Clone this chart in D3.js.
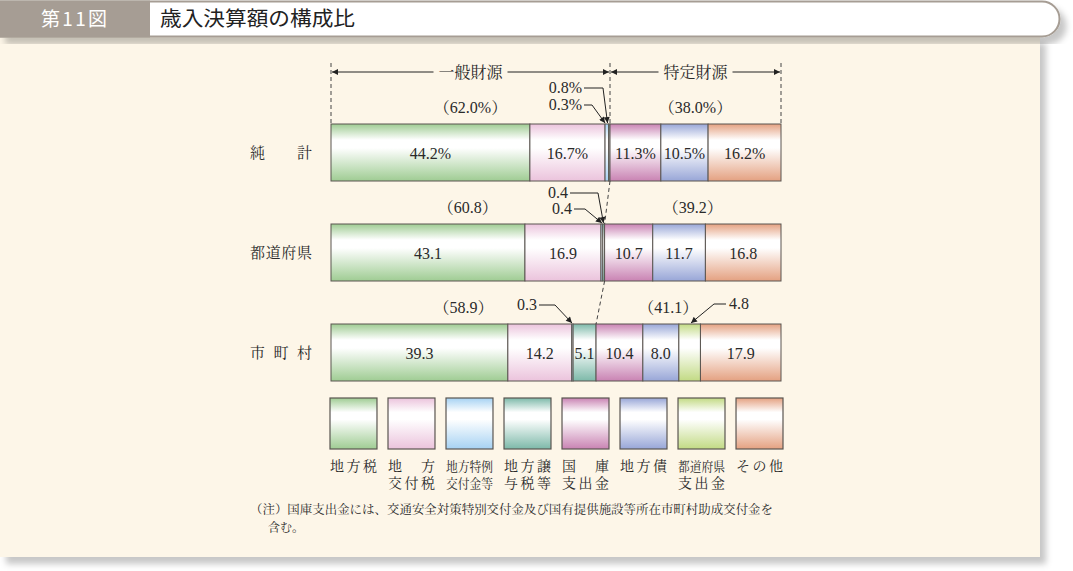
<!DOCTYPE html>
<html>

<head>
	<meta charset="utf-8">
	<title>歳入決算額の構成比</title>
	<style type="text/css">
		body {
			margin: 0;
			background: #ffffff;
		}

		svg {
			display: block;
		}

		.mincho {
			font-family: 'Liberation Serif', 'Noto Serif CJK JP', 'Noto Sans CJK JP', serif;
			fill: #2a2a2a;
		}
	</style>
</head>

<body>
	<script src="https://cdn.jsdelivr.net/npm/d3@7"></script>

	<script>

		// data
		var rows = ["純計", "都道府県", "市町村"];
		var categories = ["地方税", "地方交付税", "地方特例交付金等", "地方譲与税等", "国庫支出金", "地方債", "都道府県支出金", "その他"];
		var netValues = [44.2, 16.7, 0.8, 0.3, 11.3, 10.5, 0, 16.2];
		var prefValues = [43.1, 16.9, 0.4, 0.4, 10.7, 11.7, 0, 16.8];
		var munValues = [39.3, 14.2, 0.3, 5.1, 10.4, 8.0, 4.8, 17.9];
		var generalShare = [62.0, 60.8, 58.9];
		var generalLabels = ["（62.0%）", "（60.8）", "（58.9）"];
		var specificLabels = ["（38.0%）", "（39.2）", "（41.1）"];
		var legendLines = [["地方税"], ["地方", "交付税"], ["地方特例", "交付金等"], ["地方譲", "与税等"],
			["国庫", "支出金"], ["地方債"], ["都道府県", "支出金"], ["その他"]];
		var colors = ["#9fcc93", "#ebc3dc", "#a6d2f3", "#7db9a9", "#c983b3", "#98a6d7", "#c2da84", "#e4a181"];

		var values = [netValues, prefValues, munValues];

		var W = 1073, H = 571;
		var barH = 57;

		var x = d3.scaleLinear().domain([0, 100]).range([331, 781]);
		var y = d3.scalePoint().domain(rows).range([124, 324]);
		var lx = d3.scaleBand().domain(categories).range([330, 783]).paddingInner(0.19).paddingOuter(0);

		var svg = d3.select("body").append("svg")
			.attr("width", W)
			.attr("height", H);

		var defs = svg.append("defs");

		var shadow = defs.append("filter").attr("id", "shadow")
			.attr("x", "-5%").attr("y", "-5%").attr("width", "115%").attr("height", "125%");
		shadow.append("feDropShadow")
			.attr("dx", 6).attr("dy", 7).attr("stdDeviation", 3)
			.attr("flood-color", "#000").attr("flood-opacity", 0.22);

		// vertical gradient per category: colour - white - colour
		categories.forEach(function (c, i) {
			var g = defs.append("linearGradient").attr("id", "grad" + i)
				.attr("x1", 0).attr("y1", 0).attr("x2", 0).attr("y2", 1);
			g.append("stop").attr("offset", "0%").attr("stop-color", colors[i]);
			g.append("stop").attr("offset", "28%").attr("stop-color", "#ffffff");
			g.append("stop").attr("offset", "42%").attr("stop-color", "#ffffff");
			g.append("stop").attr("offset", "100%").attr("stop-color", colors[i]);
		});

		function arrowMarker(id, orient) {
			defs.append("marker").attr("id", id)
				.attr("viewBox", "0 0 10 10")
				.attr("refX", 10).attr("refY", 5)
				.attr("markerWidth", 8).attr("markerHeight", 6)
				.attr("markerUnits", "userSpaceOnUse")
				.attr("orient", orient)
				.append("path").attr("d", "M0,0 L10,5 L0,10 Z").attr("fill", "#222");
		}
		arrowMarker("arrow", "auto");
		arrowMarker("arrowStart", "auto-start-reverse");

		// panel and header
		svg.append("rect")
			.attr("x", 0).attr("y", 36).attr("width", 1040).attr("height", 521)
			.attr("fill", "#fdf6e8")
			.attr("filter", "url(#shadow)");

		svg.append("path")
			.attr("d", "M0,1.5 H1042 A17.5,17.5 0 0 1 1042,36.5 H0 Z")
			.attr("fill", "#ffffff")
			.attr("stroke", "#a69d94")
			.attr("stroke-width", 2)
			.attr("filter", "url(#shadow)");

		svg.append("rect")
			.attr("x", 0).attr("y", 0.5).attr("width", 150).attr("height", 37)
			.attr("fill", "#a69d94");

		svg.append("text")
			.attr("x", 41).attr("y", 26)
			.attr("font-family", "'Noto Sans CJK JP', sans-serif")
			.attr("font-size", 19)
			.attr("fill", "#ffffff")
			.attr("textLength", 66)
			.attr("lengthAdjust", "spacing")
			.text("第11図");

		svg.append("text")
			.attr("x", 160).attr("y", 26)
			.attr("font-family", "'Noto Sans CJK JP', sans-serif")
			.attr("font-size", 20)
			.attr("fill", "#222")
			.attr("textLength", 195)
			.attr("lengthAdjust", "spacingAndGlyphs")
			.text("歳入決算額の構成比");

		// row labels
		svg.selectAll("text.row")
			.data(rows)
			.enter().append("text")
			.attr("class", "row mincho")
			.attr("x", 250)
			.attr("y", function (d) { return y(d) + barH / 2 + 5; })
			.attr("font-size", 15)
			.attr("textLength", 62)
			.attr("lengthAdjust", "spacing")
			.text(function (d) { return d; });

		// bar segments
		var segData = [];
		values.forEach(function (vals, r) {
			var cum = 0;
			vals.forEach(function (v, i) {
				if (v > 0) segData.push({ row: rows[r], r: r, cat: i, v: v, x0: cum, x1: cum + v });
				cum += v;
			});
		});

		svg.selectAll("rect.seg")
			.data(segData)
			.enter().append("rect")
			.attr("class", "seg")
			.attr("x", function (d) { return x(d.x0); })
			.attr("y", function (d) { return y(d.row); })
			.attr("width", function (d) { return x(d.x1) - x(d.x0); })
			.attr("height", barH)
			.attr("fill", function (d) { return "url(#grad" + d.cat + ")"; })
			.attr("stroke", "#5a5550")
			.attr("stroke-width", 1);

		svg.selectAll("text.seg")
			.data(segData.filter(function (d) { return d.v >= 5; }))
			.enter().append("text")
			.attr("class", "seg mincho")
			.attr("x", function (d) { return x((d.x0 + d.x1) / 2); })
			.attr("y", function (d) { return y(d.row) + barH / 2 + 6; })
			.attr("text-anchor", "middle")
			.attr("font-size", 16)
			.text(function (d) { return d.v.toFixed(1) + (d.r == 0 ? "%" : ""); });

		// share labels above bars
		svg.selectAll("text.gen")
			.data(rows)
			.enter().append("text")
			.attr("class", "gen mincho")
			.attr("x", function (d, i) { return x(generalShare[i] / 2); })
			.attr("y", function (d) { return y(d) - 11; })
			.attr("text-anchor", "middle")
			.attr("font-size", 16)
			.text(function (d, i) { return generalLabels[i]; });

		svg.selectAll("text.spec")
			.data(rows)
			.enter().append("text")
			.attr("class", "spec mincho")
			.attr("x", function (d, i) {
				var mid = (generalShare[i] + 100) / 2;
				return x(i == 2 ? mid - 4.5 : mid);
			})
			.attr("y", function (d) { return y(d) - 11; })
			.attr("text-anchor", "middle")
			.attr("font-size", 16)
			.text(function (d, i) { return specificLabels[i]; });

		// dashed guides
		var dash = svg.append("g")
			.attr("fill", "none")
			.attr("stroke", "#444")
			.attr("stroke-width", 1)
			.attr("stroke-dasharray", "4,3");
		var top0 = y(rows[0]);
		[[0, 63, 0, top0], [100, 63, 100, top0], [generalShare[0], 63, generalShare[0], top0]].forEach(function (s) {
			dash.append("line").attr("x1", x(s[0])).attr("y1", s[1]).attr("x2", x(s[2])).attr("y2", s[3]);
		});
		for (var r = 0; r < rows.length - 1; r++) {
			dash.append("line")
				.attr("x1", x(generalShare[r])).attr("y1", y(rows[r]) + barH)
				.attr("x2", x(generalShare[r + 1])).attr("y2", y(rows[r + 1]));
		}

		// bracket arrows
		var bracketY = 72;
		var brackets = [
			{ label: "一般財源", from: 0, to: generalShare[0] },
			{ label: "特定財源", from: generalShare[0], to: 100 }
		];
		brackets.forEach(function (b) {
			var mid = (x(b.from) + x(b.to)) / 2;
			svg.append("line")
				.attr("x1", x(b.from) + 1).attr("y1", bracketY).attr("x2", mid - 37).attr("y2", bracketY)
				.attr("stroke", "#222").attr("marker-start", "url(#arrowStart)");
			svg.append("line")
				.attr("x1", mid + 37).attr("y1", bracketY).attr("x2", x(b.to) - 1).attr("y2", bracketY)
				.attr("stroke", "#222").attr("marker-end", "url(#arrow)");
			svg.append("text")
				.attr("class", "mincho")
				.attr("x", mid).attr("y", bracketY + 6)
				.attr("text-anchor", "middle")
				.attr("font-size", 16)
				.text(b.label);
		});

		// callouts for thin segments
		var callouts = [
			{ r: 0, cat: 2, tx: 582, ty: 88, elbow: 603, tip: 61.45, side: "left" },
			{ r: 0, cat: 3, tx: 582, ty: 105, elbow: 592, tip: 60.9, side: "left" },
			{ r: 1, cat: 2, tx: 568, ty: 193, elbow: 598, tip: 60.55, side: "left" },
			{ r: 1, cat: 3, tx: 572, ty: 209, elbow: 585, tip: 60.2, side: "left" },
			{ r: 2, cat: 2, tx: 537, ty: 305, elbow: 555, tip: 53.55, side: "left" },
			{ r: 2, cat: 6, tx: 729, ty: 304, elbow: 714, tip: 80.0, side: "right" }
		];
		callouts.forEach(function (c) {
			var v = values[c.r][c.cat];
			var tipY = y(rows[c.r]) - 1;
			var startX = c.side == "left" ? c.tx + 2 : c.tx - 3;
			svg.append("path")
				.attr("d", "M" + startX + "," + c.ty + " L" + c.elbow + "," + c.ty + " L" + x(c.tip) + "," + tipY)
				.attr("fill", "none")
				.attr("stroke", "#222")
				.attr("stroke-width", 1)
				.attr("marker-end", "url(#arrow)");
			svg.append("text")
				.attr("class", "mincho")
				.attr("x", c.tx).attr("y", c.ty + 5)
				.attr("text-anchor", c.side == "left" ? "end" : "start")
				.attr("font-size", 16)
				.text(v.toFixed(1) + (c.r == 0 ? "%" : ""));
		});

		// legend
		var legendTop = 398, legendH = 51;
		var legend = svg.selectAll("g.legend")
			.data(categories)
			.enter().append("g")
			.attr("class", "legend")
			.attr("transform", function (d) { return "translate(" + lx(d) + ",0)"; });

		legend.append("rect")
			.attr("y", legendTop)
			.attr("width", lx.bandwidth())
			.attr("height", legendH)
			.attr("fill", function (d, i) { return "url(#grad" + i + ")"; })
			.attr("stroke", "#5a5550")
			.attr("stroke-width", 1.2);

		legend.each(function (d, i) {
			var g = d3.select(this);
			legendLines[i].forEach(function (line, k) {
				var wide = line.length >= 4;
				g.append("text")
					.attr("class", "mincho")
					.attr("x", 0)
					.attr("y", 471 + k * 17)
					.attr("font-size", wide ? 13 : 14)
					.attr("textLength", lx.bandwidth())
					.attr("lengthAdjust", wide ? "spacingAndGlyphs" : "spacing")
					.text(line);
			});
		});

		// note
		svg.append("text")
			.attr("class", "mincho")
			.attr("x", 250).attr("y", 514)
			.attr("font-size", 12)
			.attr("textLength", 523)
			.attr("lengthAdjust", "spacingAndGlyphs")
			.text("（注）国庫支出金には、交通安全対策特別交付金及び国有提供施設等所在市町村助成交付金を");
		svg.append("text")
			.attr("class", "mincho")
			.attr("x", 268).attr("y", 532)
			.attr("font-size", 12)
			.text("含む。");
	</script>
</body>

</html>
